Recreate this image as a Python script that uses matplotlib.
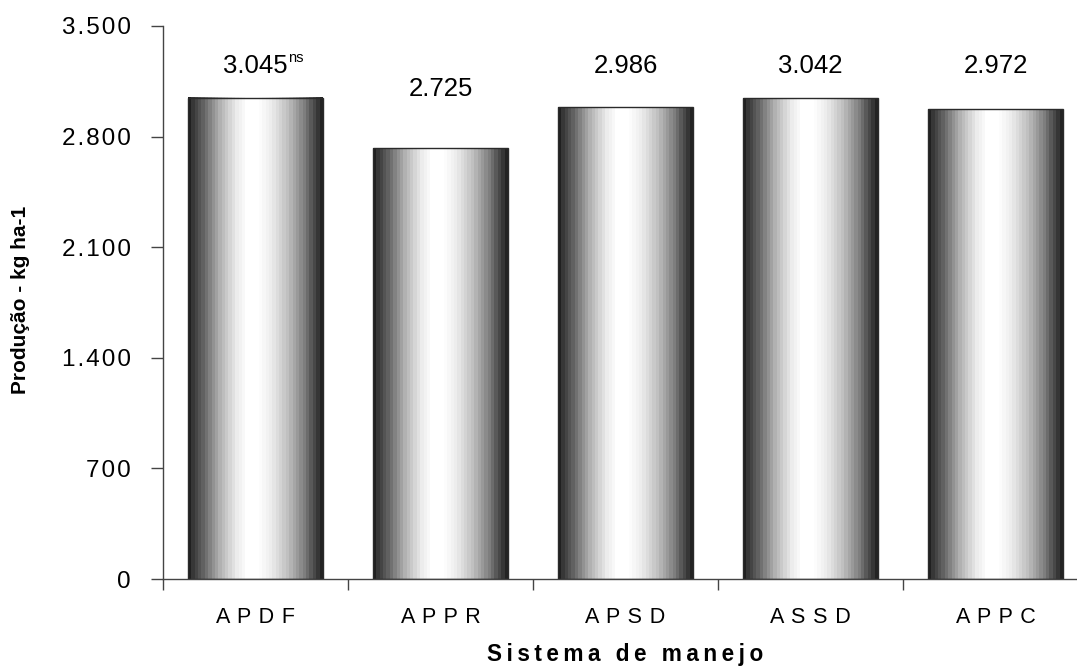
import numpy as np
import matplotlib
matplotlib.use("Agg")
import matplotlib.pyplot as plt

plt.rcParams['font.family'] = ['Liberation Sans', 'DejaVu Sans']

# produção média por sistema de manejo
sistemas = ['APDF', 'APPR', 'APSD', 'ASSD', 'APPC']
producao = [3045, 2725, 2986, 3042, 2972]
yticks = [0, 700, 1400, 2100, 2800, 3500]

HAIR = '\u200a'
THIN = '\u2009'


def milhar(v):
    return '{:,}'.format(int(v)).replace(',', '.')


def espacado(s, sep):
    # espaçamento entre letras com espaços finos
    return sep.join(s)


# perfil de brilho das barras (efeito cilindro)
perfil_t = [0, 0.03, 0.11, 0.24, 0.36, 0.44, 0.52, 0.62, 0.74, 0.86, 0.96, 1]
perfil_b = [0.08, 0.2, 0.38, 0.7, 0.92, 1, 1, 0.92, 0.75, 0.5, 0.22, 0.1]
nbandas = 40
tt = (np.arange(nbandas) + 0.5) / nbandas
grad = np.interp(tt, perfil_t, perfil_b).reshape(1, -1)

fig = plt.figure(figsize=(10.77, 6.66), dpi=100)
ax = fig.add_axes([163 / 1077, 87 / 666, 925 / 1077, 553 / 666])

larg = 0.725
x = np.arange(len(sistemas))
for xi, v in zip(x, producao):
    ax.imshow(grad, cmap='gray', vmin=0, vmax=1, aspect='auto',
              interpolation='nearest',
              extent=(xi - larg / 2, xi + larg / 2, 0, v), zorder=2)
ax.bar(x, producao, width=larg, facecolor='none', edgecolor='#2a2a2a',
       linewidth=1.0, zorder=3)

# rótulos de valor
ylab = np.minimum(np.array(producao) + 330, 3200)
for i, (xi, v) in enumerate(zip(x, producao)):
    t = ax.text(xi, ylab[i], milhar(v), ha='center', va='baseline',
                fontsize=18.5, color='black')
    if i == 0:
        ax.annotate('ns', xy=(1, 1.15), xycoords=t, ha='left', va='top',
                    fontsize=10.5, color='black')

ax.set_xlim(-0.5, len(sistemas) - 0.5)
ax.set_ylim(0, 3500)

ax.set_yticks(yticks)
ax.set_yticklabels([espacado(milhar(v), HAIR) for v in yticks])
ax.set_xticks(x)
ax.set_xticklabels([espacado(s, ' ' + HAIR) for s in sistemas])
ax.set_xticks(np.arange(len(sistemas) + 1) - 0.5, minor=True)

ax.tick_params(axis='y', direction='out', length=9, width=1.0,
               color='#444444', labelsize=17.5, pad=14)
ax.tick_params(axis='x', which='major', length=0, labelsize=15.5, pad=20)
ax.tick_params(axis='x', which='minor', direction='out', length=8,
               width=1.0, color='#444444')

for lado in ['top', 'right']:
    ax.spines[lado].set_visible(False)
for lado in ['left', 'bottom']:
    ax.spines[lado].set_color('#444444')
    ax.spines[lado].set_linewidth(1.0)

fig.text(21 / 1077, 1 - 300 / 666, 'Produção - kg ha-1', rotation=90,
         ha='center', va='center', fontsize=15, fontweight='bold')
fig.text(625 / 1077, 5 / 666, espacado('Sistema de manejo', THIN),
         ha='center', va='baseline', fontsize=16.3, fontweight='bold')

fig.savefig('out.png', dpi=100)
